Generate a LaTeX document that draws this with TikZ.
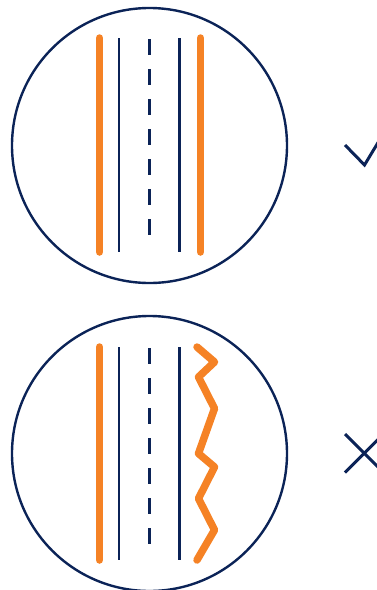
\documentclass[tikz,border=0pt]{standalone}
\definecolor{navy}{HTML}{0B2357}
\definecolor{tireorange}{HTML}{F58225}
\begin{document}
\begin{tikzpicture}[x=1pt,y=-1pt,
  rim/.style={draw=navy,line width=2.4pt},
  groove/.style={navy,line width=2.8pt},
  centerline/.style={navy,line width=2.8pt,dash pattern=on 16pt off 14pt},
  treadedge/.style={tireorange,line width=7.5pt,line cap=round,line join=round},
  verdict/.style={navy,line width=3pt}]
\useasboundingbox (0,0) rectangle (377,590);
% upper tread: straight edges
\draw[rim] (149.5,145.5) circle (137.5);
\draw[treadedge] (99.5,38) -- (99.5,252);
\draw[groove] (119,38) -- (119,252);
\draw[centerline] (149.5,39) -- (149.5,240);
\draw[groove] (179.5,38) -- (179.5,252);
\draw[treadedge] (200.5,38) -- (200.5,252);
% tick
\draw[verdict] (345,145) -- (364.5,165) -- (385,131);
% lower tread: wavy outer edge
\draw[rim] (149.5,453.5) circle (137.5);
\draw[treadedge] (99.5,347) -- (99.5,560);
\draw[groove] (119,347) -- (119,560);
\draw[centerline] (149.5,348) -- (149.5,548);
\draw[groove] (179.5,347) -- (179.5,560);
\draw[treadedge] (197,347) -- (214.5,362) -- (198.5,377) -- (214.5,408.5)
  -- (198.5,453.5) -- (214.5,467) -- (198.5,498.5) -- (214.5,530) -- (197,560);
% cross
\draw[verdict] (345,434) -- (385,474);
\draw[verdict] (345,472.5) -- (385,432.5);
\end{tikzpicture}
\end{document}
